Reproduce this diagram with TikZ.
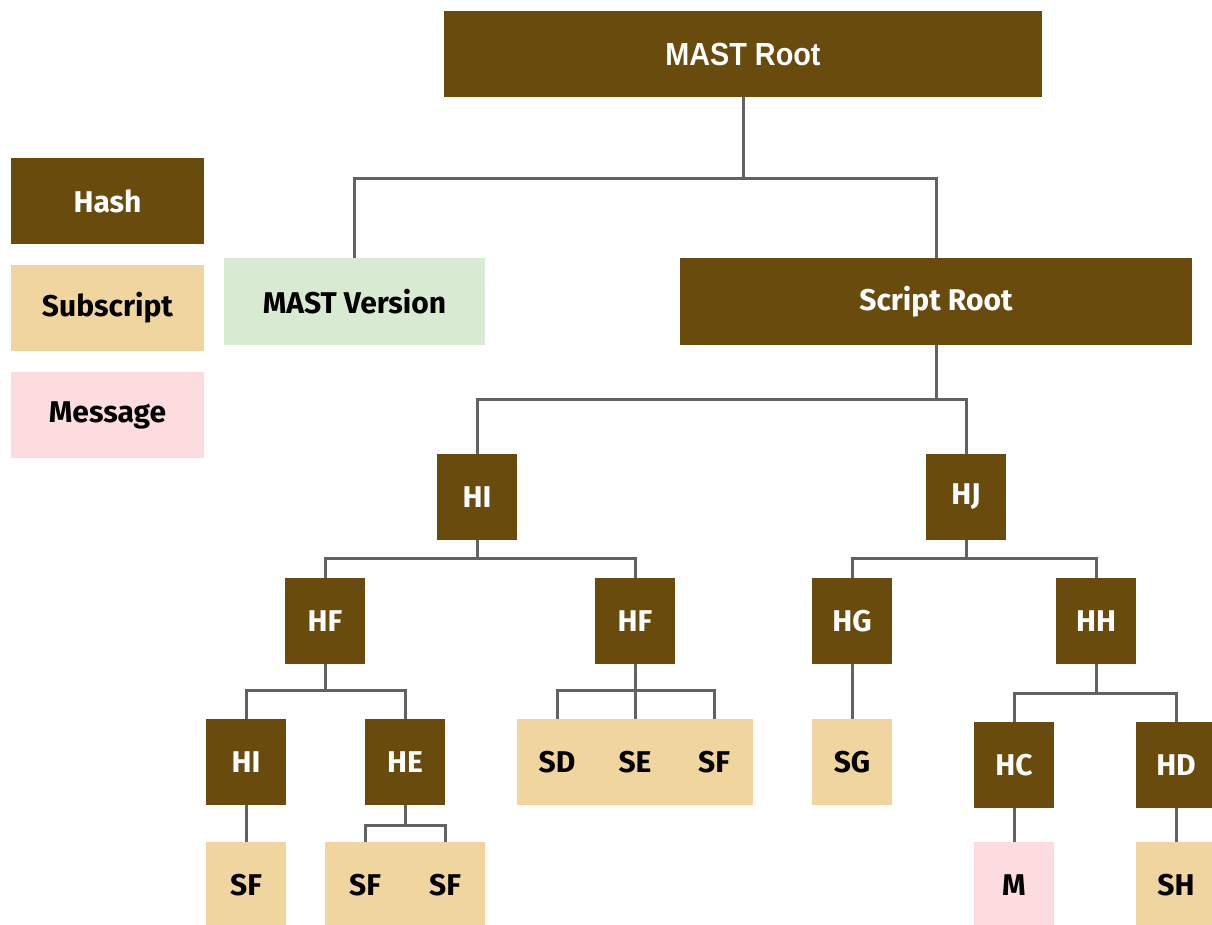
\documentclass[tikz,border=0pt]{standalone}
\usepackage{fontspec}
\setmainfont{Fira Sans}
\newfontfamily\rootfont{Liberation Sans}[FakeStretch=0.9]
\begin{document}
\definecolor{hashbrown}{HTML}{6A4B0E}
\definecolor{subtan}{HTML}{F0D59E}
\definecolor{msgpink}{HTML}{FDDCDF}
\definecolor{vergreen}{HTML}{D9EAD3}
\definecolor{linkgray}{HTML}{626262}
\begin{tikzpicture}[x=1pt,y=-1pt,
  every node/.style={inner sep=0pt, outer sep=0pt},
  base/.style={minimum width=#1, minimum height=86pt, font=\fontsize{30}{36}\selectfont\bfseries},
  hash/.style={base=#1, fill=hashbrown, text=white},
  hash/.default=80pt,
  sub/.style={base=#1, fill=subtan, text=black},
  sub/.default=80pt,
  msg/.style={base=#1, fill=msgpink, text=black},
  msg/.default=80pt,
  ver/.style={base=#1, fill=vergreen, text=black},
  lbl/.style={font=\fontsize{30}{36}\selectfont\bfseries, text=black},
  link/.style={draw=linkgray, line width=3pt, line join=miter}]
\clip (0,0) rectangle (1212,924);
\fill[white] (0,0) rectangle (1212,924);

% legend
\node[hash=193pt] (lhash) at (107.5,201) {Hash};
\node[sub=193pt]  (lsub)  at (107.5,308) {Subscript};
\node[msg=193pt]  (lmsg)  at (107.5,415) {Message};

% top levels
\node[hash=598pt, font=\rootfont\fontsize{32}{36}\selectfont\bfseries] (root) at (743,54) {MAST Root};
\node[ver=261pt, minimum height=87pt] (version) at (354.5,301.5) {MAST Version};
\node[hash=512pt, minimum height=87pt] (sroot) at (936,301.5) {Script Root};

\node[hash] (hi)  at (477,497) {HI};
\node[hash] (hj)  at (966,497) {HJ};

\node[hash] (hfa) at (325,621) {HF};
\node[hash] (hfb) at (635,621) {HF};
\node[hash] (hg)  at (852,621) {HG};
\node[hash] (hh)  at (1096,621) {HH};

\node[hash] (hib) at (246,762) {HI};
\node[hash] (he)  at (405,762) {HE};
\node[sub=236pt] (sdef) at (635,762) {};
\node[lbl] (sd) at (557,762) {SD};
\node[lbl] (se) at (635,762) {SE};
\node[lbl] (sf) at (714,762) {SF};
\node[sub] (sg)  at (852,762) {SG};
\node[hash] (hc) at (1014,765) {HC};
\node[hash] (hd) at (1176,765) {HD};

\node[sub] (sfa) at (246,885) {SF};
\node[sub=160pt] (sfsf) at (405,885) {};
\node[lbl] (sfb) at (365,885) {SF};
\node[lbl] (sfc) at (445,885) {SF};
\node[msg] (m)  at (1014,885) {M};
\node[sub] (sh) at (1176,885) {SH};

% branch points
\coordinate (j0) at (743,178);
\coordinate (j1) at (936,399);
\coordinate (j2) at (477,558);
\coordinate (j3) at (966,558);
\coordinate (j4) at (325,690);
\coordinate (j5) at (635,690);
\coordinate (j6) at (1096,693);
\coordinate (j7) at (405,825);

% connectors
\draw[link] (root.south) -- (j0);
\draw[link] (version.north) |- (j0) -| (sroot.north);
\draw[link] (sroot.south) -- (j1);
\draw[link] (hi.north) |- (j1) -| (hj.north);
\draw[link] (hi.south) -- (j2);
\draw[link] (hfa.north) |- (j2) -| (hfb.north);
\draw[link] (hj.south) -- (j3);
\draw[link] (hg.north) |- (j3) -| (hh.north);
\draw[link] (hfa.south) -- (j4);
\draw[link] (hib.north) |- (j4) -| (he.north);
\draw[link] (hfb.south) -- (sdef.north);
\draw[link] (sd |- sdef.north) |- (j5) -| (sf |- sdef.north);
\draw[link] (hg.south) -- (sg.north);
\draw[link] (hh.south) -- (j6);
\draw[link] (hc.north) |- (j6) -| (hd.north);
\draw[link] (hib.south) -- (sfa.north);
\draw[link] (he.south) -- (j7);
\draw[link] (sfb |- sfsf.north) |- (j7) -| (sfc |- sfsf.north);
\draw[link] (hc.south) -- (m.north);
\draw[link] (hd.south) -- (sh.north);
\end{tikzpicture}
\end{document}
